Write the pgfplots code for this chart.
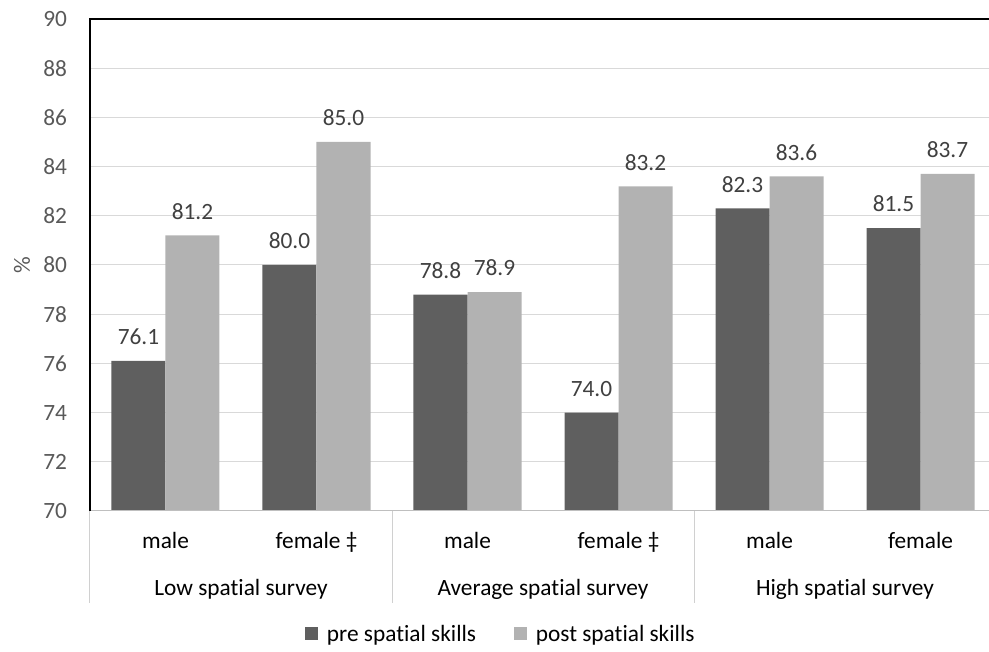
\documentclass[border=0pt]{standalone}
\usepackage{pgfplots}
\pgfplotsset{compat=1.18}
\usepackage{fontspec}
\setmainfont[Ligatures=NoCommon]{Carlito}
\definecolor{darkbar}{HTML}{5F5F5F}
\definecolor{lightbar}{HTML}{B2B2B2}
\definecolor{ticktext}{HTML}{595959}
\definecolor{gridc}{HTML}{D9D9D9}
\definecolor{labeltext}{HTML}{404040}
\definecolor{divc}{HTML}{D0D0D0}
\newcommand{\cfont}{\fontsize{17.5}{21}\selectfont}
\begin{document}
\begin{tikzpicture}
\begin{axis}[
  at={(0,0)}, anchor=south west,
  scale only axis, width=679.5pt, height=369pt,
  xmin=-0.5, xmax=5.5, ymin=70, ymax=90,
  clip=false,
  ybar=0pt, bar width=40.5pt,
  axis line style={draw=none},
  ytick={70,72,...,90},
  ymajorgrids, grid style={gridc, line width=0.75pt},
  xtick={0,...,5},
  xticklabels={male, female ‡, male, female ‡, male, female},
  major tick length=0pt,
  /pgf/number format/assume math mode=true,
  tick label style={font=\cfont},
  yticklabel style={color=ticktext, anchor=east, inner sep=0pt, xshift=-17pt},
  xticklabel style={color=black, anchor=base, inner sep=0pt, yshift=-28.5pt},
  nodes near coords={\pgfmathprintnumber[fixed,fixed zerofill,precision=1,assume math mode=true]{\pgfplotspointmeta}},
  every node near coord/.append style={font=\cfont, color=labeltext, yshift=8.5pt},
  legend style={at={(axis description cs:0.4536,-0.25)}, anchor=center, draw=none, fill=none,
    legend columns=2, font=\cfont, inner sep=0pt,
    /tikz/every odd column/.append style={column sep=5pt},
    /tikz/every even column/.append style={column sep=26pt}},
]
\addplot[fill=darkbar, draw=none, legend image code/.code={\fill[darkbar] (0pt,-4.5pt) rectangle (9.75pt,5.25pt);}]
  coordinates {(0,76.1) (1,80.0) (2,78.8) (3,74.0) (4,82.3) (5,81.5)};
\addlegendentry{pre spatial skills}
\addplot[fill=lightbar, draw=none, legend image code/.code={\fill[lightbar] (0pt,-4.5pt) rectangle (9.75pt,5.25pt);}]
  coordinates {(0,81.2) (1,85.0) (2,78.9) (3,83.2) (4,83.6) (5,83.7)};
\addlegendentry{post spatial skills}
\draw[line width=0.75pt, color=black!25] (rel axis cs:0,0) -- (rel axis cs:1,0);
\draw[line width=1.5pt, black] (rel axis cs:0,0) -- (rel axis cs:0,1) -- (rel axis cs:1,1);
\draw[line width=0.75pt, color=divc] (axis cs:-0.5,70) -- ([yshift=-69pt]axis cs:-0.5,70);
\draw[line width=0.75pt, color=divc] (axis cs:1.5,70) -- ([yshift=-69pt]axis cs:1.5,70);
\draw[line width=0.75pt, color=divc] (axis cs:3.5,70) -- ([yshift=-69pt]axis cs:3.5,70);
\draw[line width=0.75pt, color=divc] (axis cs:5.5,70) -- ([yshift=-69pt]axis cs:5.5,70);
\node[anchor=base, font=\cfont, inner sep=0pt] at ([yshift=-63.75pt]axis cs:0.5,70) {Low spatial survey};
\node[anchor=base, font=\cfont, inner sep=0pt] at ([yshift=-63.75pt]axis cs:2.5,70) {Average spatial survey};
\node[anchor=base, font=\cfont, inner sep=0pt] at ([yshift=-63.75pt]axis cs:4.5,70) {High spatial survey};
\node[rotate=90, font=\cfont, color=ticktext] at (axis description cs:-0.0751,0.5) {\%};
\end{axis}
\pgfresetboundingbox
\path[use as bounding box] (-67.5pt,-105.75pt) rectangle (674.25pt,383.25pt);
\end{tikzpicture}
\end{document}
